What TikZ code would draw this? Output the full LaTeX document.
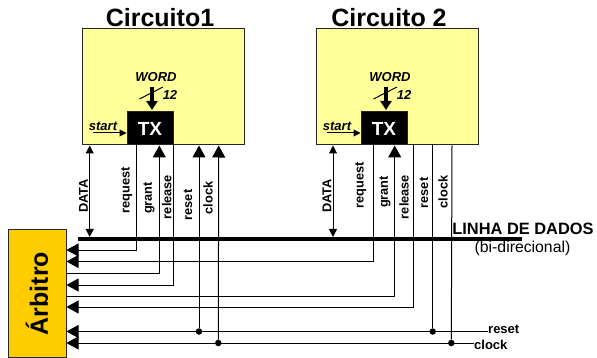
\documentclass[tikz,border=0pt]{standalone}
\usepackage{fontspec}
\setmainfont{Liberation Sans}
\usetikzlibrary{arrows.meta,positioning}
\definecolor{circfill}{HTML}{FFFF99}
\definecolor{arbfill}{HTML}{FFCC00}

\begin{document}
\begin{tikzpicture}[
        x=1pt, y=-1pt,
        block/.style={draw=black!85, line width=1pt, inner sep=0pt},
        sig/.style={line width=1pt},
        sigin/.style={sig, -{Triangle[length=12pt,width=13pt]}},
        sigdata/.style={sig, {Triangle[length=8pt,width=8pt]}-{Triangle[length=8pt,width=8pt]}},
        lbl/.style={font=\fontsize{12.8}{14}\selectfont\bfseries, rotate=90, inner sep=0pt},
        tag/.style={font=\fontsize{13}{15}\selectfont\bfseries\itshape, inner sep=0pt},
        dot/.style={circle, fill=black, inner sep=0pt, minimum size=6.5pt},
    ]
    \useasboundingbox (0,0) rectangle (597,358);

    % Circuit blocks with their transmitters
    \foreach \c/\dx in {1/0,2/234} {
        \node[block, fill=circfill, minimum width=162pt, minimum height=116pt] (circ\c) at (163+\dx,87) {};
        \node[block, fill=black, text=white, font=\fontsize{19}{21}\selectfont\bfseries, minimum width=46pt, minimum height=33pt] (tx\c) at (150+\dx,128.5) {TX};
        % Word input
        \node[tag] (word\c) at (156+\dx,77) {WORD};
        \node[tag] (size\c) at (170+\dx,94.5) {12};
        \coordinate (wordin\c) at (152+\dx,87);
        \coordinate (wordtip\c) at (152+\dx,110);
        \draw[line width=3.5pt, -{Triangle[length=9pt,width=11pt]}] (wordin\c) -- (wordtip\c);
        \coordinate (slasha\c) at (139.5+\dx,99);
        \coordinate (slashb\c) at (163+\dx,87);
        \draw[sig] (slasha\c) -- (slashb\c);
        % Start input
        \node[tag] (start\c) at (103+\dx,126.5) {start};
        \coordinate (startin\c) at (93+\dx,133);
        \draw[sig, -{Triangle[length=7pt,width=7pt]}] (startin\c) -- (startin\c -| tx\c.west);
    }
    \node[font=\fontsize{25}{27}\selectfont\bfseries, inner sep=0pt] (title1) at (160,18) {Circuito1};
    \node[font=\fontsize{25}{27}\selectfont\bfseries, inner sep=0pt] (title2) at (389,18) {Circuito 2};

    % Arbiter
    \node[block, fill=arbfill, minimum width=57.5pt, minimum height=128pt] (arb) at (37.25,293.5) {};
    \node[font=\fontsize{25}{27}\selectfont\bfseries, rotate=90, inner sep=0pt] (arbname) at (37,293.5) {Árbitro};

    % Data line
    \coordinate (busl) at (78,239);
    \coordinate (busr) at (522,239);
    \draw[line width=4pt] (busl) -- (busr);
    \node[font=\fontsize{16.4}{18}\selectfont\bfseries, inner sep=0pt] (busname) at (523,229) {LINHA DE DADOS};
    \node[font=\fontsize{15.8}{18}\selectfont, inner sep=0pt] (busnote) at (522.5,248) {(bi-direcional)};

    % Where the lines leave the circuits
    \foreach \n/\x in {dt1/89.7,rq1/136,gr1/159.3,rl1/173.3,rs1/199,ck1/218.7,dt2/333,rq2/373.3,gr2/394.7,rl2/413.3,rs2/432.7,ck2/452} {
        \coordinate (\n) at (\x,145.5);
    }

    % Data
    \draw[sigdata] (dt1) -- (dt1 |- 0,237);
    \draw[sigdata] (dt2) -- (dt2 |- 0,237);

    % Request, grant and release of circuit 1
    \draw[sigin] (rq1) |- (arb.east |- 0,250);
    \draw[sigin] (arb.east |- 0,273) -| (gr1);
    \draw[sigin] (rl1) |- (arb.east |- 0,285);

    % Request, grant and release of circuit 2
    \draw[sigin] (rq2) |- (arb.east |- 0,261.5);
    \draw[sigin] (arb.east |- 0,296) -| (gr2);
    \draw[sigin] (rl2) |- (arb.east |- 0,307);

    % Reset and clock
    \node[font=\fontsize{13}{15}\selectfont\bfseries, inner sep=0pt, anchor=west] (resetname) at (488,329.5) {reset};
    \node[font=\fontsize{13}{15}\selectfont\bfseries, inner sep=0pt, anchor=west] (clockname) at (474,344.5) {clock};
    \draw[sigin] (resetname.west |- 0,331.5) -- (arb.east |- 0,331.5);
    \draw[sigin] (clockname.west |- 0,343) -- (arb.east |- 0,343);
    \node[dot] (rsdot1) at (199,331.5) {};
    \node[dot] (ckdot1) at (218.3,343) {};
    \node[dot] (rsdot2) at (432.7,331.5) {};
    \node[dot] (ckdot2) at (451.3,343) {};
    \draw[sigin] (rsdot1) -- (rs1);
    \draw[sigin] (ckdot1) -- (ck1);
    \draw[sig] (rs2) -- (rsdot2);
    \draw[sig] (ck2) -- (ckdot2);

    % Line names
    \foreach \n/\x/\y/\txt in {a1/83.5/196/DATA,a2/126.7/190/request,a3/149/198/grant,a4/166.7/197/release,a5/188/205/reset,a6/208/198/clock,
        b1/327/196/DATA,b2/360.7/185/request,b3/385/192/grant,b4/404/197/release,b5/424/193/reset,b6/443/192/clock} {
        \node[lbl] (\n) at (\x,\y) {\txt};
    }
\end{tikzpicture}
\end{document}
